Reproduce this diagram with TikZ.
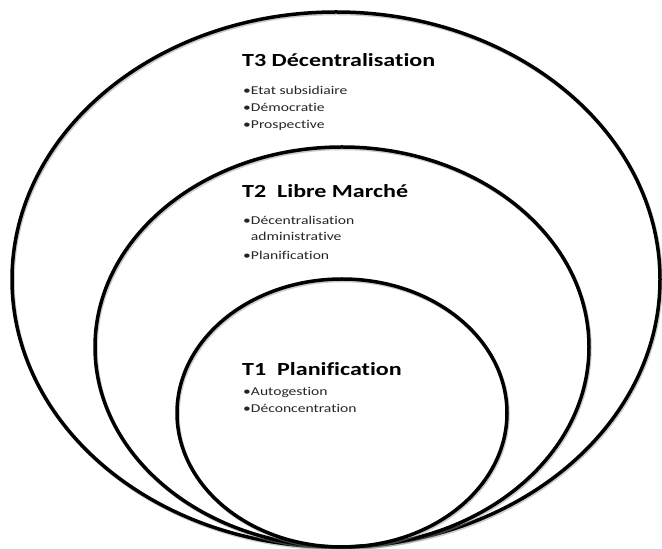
\documentclass[tikz,border=0pt]{standalone}
\usepackage{fontspec}
\setmainfont{Carlito}[FakeStretch=1.3, Ligatures=NoCommon]
\usetikzlibrary{calc}
\definecolor{ringshade}{HTML}{8C8C8C}
\definecolor{itemgray}{HTML}{262626}

\begin{document}
\begin{tikzpicture}[x=1pt, y=1pt,
    ring/.style={line width=3.5pt, black},
    ringShadow/.style={line width=3.5pt, ringshade, opacity=0.45},
    titleText/.style={anchor=base west, inner sep=0pt,
        font=\fontsize{18.5}{22}\selectfont\bfseries},
    itemText/.style={anchor=base west, inner sep=0pt, align=left,
        text=itemgray, font=\fontsize{12}{17}\selectfont}]

\useasboundingbox (0,0) rectangle (662,549);

% --- MACRO: DRAW ONE RING ---
% #1: centre x, #2: centre y, #3: x radius, #4: y radius
\newcommand{\drawRing}[4]{
    \draw[ringShadow] (#1+1,#2-1.5) ellipse [x radius=#3pt, y radius=#4pt];
    \draw[ring] (#1,#2) ellipse [x radius=#3pt, y radius=#4pt];
}

% --- RINGS (all touch at the bottom) ---
\drawRing{336}{269.5}{324}{267.5}
\drawRing{342}{202}{247}{200}
\drawRing{342}{136}{165}{134}

% --- T3 ---
% (base of a list node = baseline of its last line)
\node[titleText] (t3Title) at (242,482) {T3 Décentralisation};
\node[itemText] (t3Items) at (243,420)
    {•Etat subsidiaire\\•Démocratie\\•Prospective};

% --- T2 ---
\node[titleText] (t2Title) at (242,351) {T2\ \ Libre Marché};
\node[itemText] (t2Items) at (243,289)
    {•Décentralisation\\[-1pt]\phantom{•}administrative\\[2pt]•Planification};

% --- T1 ---
\node[titleText] (t1Title) at (242,173) {T1\ \ Planification};
\node[itemText] (t1Items) at (243,136)
    {•Autogestion\\•Déconcentration};

\end{tikzpicture}
\end{document}
